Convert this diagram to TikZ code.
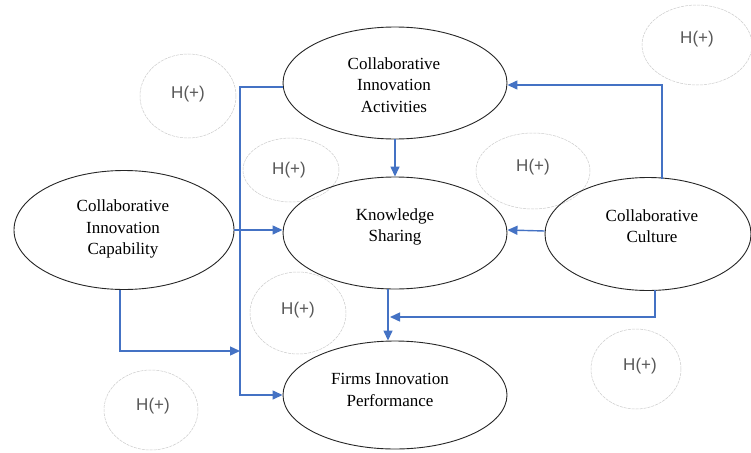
\documentclass[tikz,border=0pt]{standalone}
\usepackage{fontspec}
\setmainfont{Liberation Serif}
\newfontfamily\hfont{Liberation Sans}
\usetikzlibrary{shapes.geometric,arrows.meta}
\definecolor{linkblue}{HTML}{4472C4}
\definecolor{hgray}{HTML}{595959}
\tikzset{
  construct/.style={ellipse, draw=black!85, line width=0.9pt, inner sep=0pt},
  ctext/.style={align=center, font=\fontsize{17}{21.5}\selectfont, inner sep=0pt},
  hyp/.style={ellipse, draw=black!20, line width=0.5pt, dash pattern=on 3pt off 1pt, inner sep=0pt},
  htext/.style={font=\hfont\fontsize{17}{20}\selectfont, text=hgray, inner sep=0pt},
  link/.style={draw=linkblue, line width=1.4pt, -{Triangle[length=10pt,width=9pt]}},
  plain/.style={draw=linkblue, line width=1.4pt}
}
\begin{document}
\begin{tikzpicture}[x=1pt,y=-1pt]
\useasboundingbox (0,0) rectangle (751,452);
\fill[white] (0,0) rectangle (751,452);

% hypothesis bubbles
\node[hyp, minimum width=96pt, minimum height=84pt] (h1) at (188,96) {};
\node[htext] (h1t) at (188,94) {H(+)};
\node[hyp, minimum width=96pt, minimum height=64pt] (h2) at (291,170) {};
\node[htext] (h2t) at (289,170) {H(+)};
\node[hyp, minimum width=114pt, minimum height=76pt] (h3) at (533,171) {};
\node[htext] (h3t) at (533,167) {H(+)};
\node[hyp, minimum width=90pt, minimum height=80pt] (h4) at (636,369) {};
\node[htext] (h4t) at (640,366) {H(+)};
\node[hyp, minimum width=94pt, minimum height=80pt] (h5) at (151,410) {};
\node[htext] (h5t) at (153,406) {H(+)};
\node[hyp, minimum width=110pt, minimum height=80pt] (h6) at (697,45) {};
\node[htext] (h6t) at (697,39) {H(+)};
\node[hyp, minimum width=96pt, minimum height=82pt] (h7) at (298,313) {};
\node[htext] (h7t) at (298,310) {H(+)};

% constructs
\node[construct, minimum width=224pt, minimum height=112pt] (cia) at (395,83) {};
\node[ctext] (ciat) at (394,85) {Collaborative\\Innovation\\Activities};
\node[construct, minimum width=224pt, minimum height=112pt] (ks) at (395,233) {};
\node[ctext] (kst) at (395,227) {Knowledge\\Sharing};
\node[construct, minimum width=206pt, minimum height=113pt] (cc) at (648,234) {};
\node[ctext] (cct) at (652,226) {Collaborative\\Culture};
\node[construct, minimum width=220pt, minimum height=119pt] (cic) at (124,230) {};
\node[ctext] (cict) at (123,229) {Collaborative\\Innovation\\Capability};
\node[construct, minimum width=224pt, minimum height=108pt] (fip) at (395,395) {};
\node[ctext] (fipt) at (390,390) {Firms Innovation\\Performance};

% bend points of the connectors
\coordinate (busTop) at (240,87);
\coordinate (busBot) at (240,395);
\coordinate (busMid) at (240,351);
\coordinate (cicDown) at (120,351);
\coordinate (ccUp) at (662,85);
\coordinate (ccDown) at (655,317);
\coordinate (ksJoin) at (388,317);

% connectors
\draw[link] (cia.west |- busTop) -- (busTop) -- (busBot) -- (fip.west);
\draw[link] (cicDown |- cic.south) -- (cicDown) -- (busMid);
\draw[link] (cic.east) -- ([yshift=3pt]ks.west);
\draw[link] (cia.south) -- (ks.north);
\draw[link] ([yshift=3pt]cc.west) -- ([yshift=3pt]ks.east);
\draw[link] (ccUp |- 662,179) -- (ccUp) -- (cia.east |- ccUp);
\draw[link] (ccDown |- 655,290) -- (ccDown) -- ([xshift=2pt]ksJoin);
\draw[link] ([xshift=-7pt]ks.south) -- ([xshift=-7pt]fip.north);
\end{tikzpicture}
\end{document}
